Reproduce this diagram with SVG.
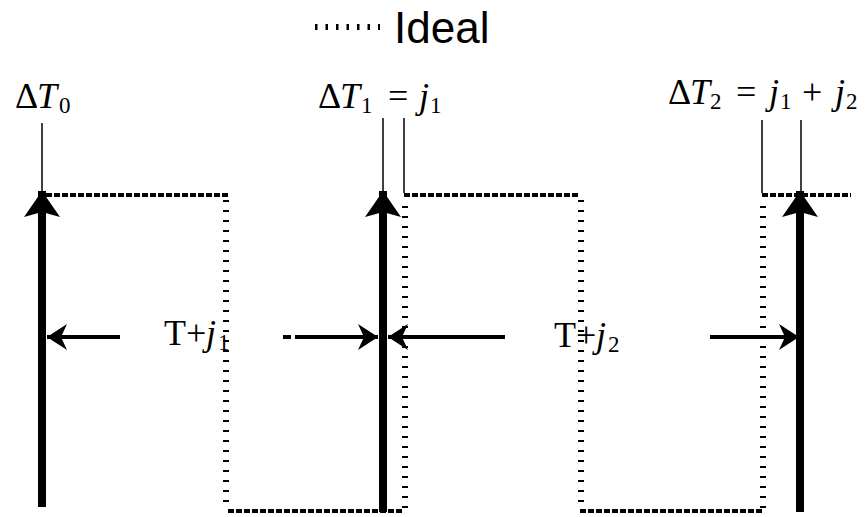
<svg xmlns="http://www.w3.org/2000/svg" width="868" height="517" viewBox="0 0 868 517">
<style>
.ideal-h{fill:none;stroke:#000;stroke-width:4;stroke-dasharray:6,2}
.ideal-v{fill:none;stroke:#000;stroke-width:6;stroke-dasharray:2,8}
.thick{stroke:#000;stroke-width:8}
.thin{stroke:#000;stroke-width:1.5}
.harrow{stroke:#000;stroke-width:4}
.it{font-family:"Liberation Serif",serif;font-style:italic;font-size:36px;fill:#000}
.rm{font-family:"Liberation Serif",serif;font-size:36px;fill:#000}
.sub{font-family:"Liberation Serif",serif;font-size:23px;fill:#000}
.legend{font-family:"Liberation Sans",Arial,sans-serif;font-size:44px;fill:#000}
</style>
<defs>
<marker id="vhead" markerUnits="userSpaceOnUse" markerWidth="40" markerHeight="40" refX="36" refY="18" orient="auto">
<path d="M36,18 L10,0 L15,18 L10,36 Z" fill="#000"/>
</marker>
<marker id="hhead" markerUnits="userSpaceOnUse" markerWidth="30" markerHeight="30" refX="20" refY="13" orient="auto">
<path d="M20,13 L0,0 L6,13 L0,26 Z" fill="#000"/>
</marker>
</defs>
<rect width="868" height="517" fill="#fff"/>
<g id="legend">
<line x1="315" y1="27" x2="380" y2="27" stroke="#000" stroke-width="6" stroke-dasharray="2.5,8"/>
<text class="legend" x="394" y="43">Ideal</text>
</g>
<g id="ideal">
<path class="ideal-h" d="M46,195 H228"/>
<path class="ideal-v" d="M226,200 V508"/>
<path class="ideal-h" d="M228,511 H404"/>
<path class="ideal-v" d="M405,508 V200"/>
<path class="ideal-h" d="M404,195 H580"/>
<path class="ideal-v" d="M581,200 V508"/>
<path class="ideal-h" d="M580,511 H762"/>
<path class="ideal-v" d="M763,508 V200"/>
<path class="ideal-h" d="M762,195 H851"/>
</g>
<g id="label-t0">
<text class="rm" x="15" y="108">Δ</text><text class="it" x="37" y="108">T</text><text class="sub" x="59" y="113">0</text>
</g>
<g id="label-t1">
<text class="rm" x="318" y="108">Δ</text><text class="it" x="340" y="108">T</text><text class="sub" x="361" y="113">1</text>
<text class="rm" x="388" y="108">=</text><text class="it" x="419" y="108">j</text><text class="sub" x="430" y="113">1</text>
</g>
<g id="label-t2">
<text class="rm" x="668" y="104">Δ</text><text class="it" x="690" y="104">T</text><text class="sub" x="710" y="109">2</text>
<text class="rm" x="736" y="104">=</text><text class="it" x="769" y="104">j</text><text class="sub" x="780" y="109">1</text>
<text class="rm" x="802" y="104">+</text><text class="it" x="835" y="104">j</text><text class="sub" x="846" y="109">2</text>
</g>
<g id="label-p1">
<text class="rm" x="164" y="345">T+</text><text class="it" x="206" y="345">j</text><text class="sub" x="218" y="350">1</text>
</g>
<g id="label-p2">
<text class="rm" x="554" y="347">T+</text><text class="it" x="596" y="347">j</text><text class="sub" x="608" y="352">2</text>
</g>
<g id="connectors">
<line class="thin" x1="42" y1="123" x2="42" y2="193"/>
<line class="thin" x1="383" y1="118" x2="383" y2="193"/>
<line class="thin" x1="404" y1="118" x2="404" y2="193"/>
<line class="thin" x1="762" y1="120" x2="762" y2="193"/>
<line class="thin" x1="801" y1="120" x2="801" y2="193"/>
<line class="thick" x1="42" y1="507" x2="42" y2="191" marker-end="url(#vhead)"/>
<line class="thick" x1="383" y1="512" x2="383" y2="191" marker-end="url(#vhead)"/>
<line class="thick" x1="800" y1="512" x2="800" y2="191" marker-end="url(#vhead)"/>
<line class="harrow" x1="120" y1="337" x2="47" y2="337" marker-end="url(#hhead)"/>
<line class="harrow" x1="283" y1="337" x2="291" y2="337"/>
<line class="harrow" x1="295" y1="337" x2="378" y2="337" marker-end="url(#hhead)"/>
<line class="harrow" x1="505" y1="337" x2="388" y2="337" marker-end="url(#hhead)"/>
<line class="harrow" x1="710" y1="337" x2="799" y2="337" marker-end="url(#hhead)"/>
</g>
</svg>
